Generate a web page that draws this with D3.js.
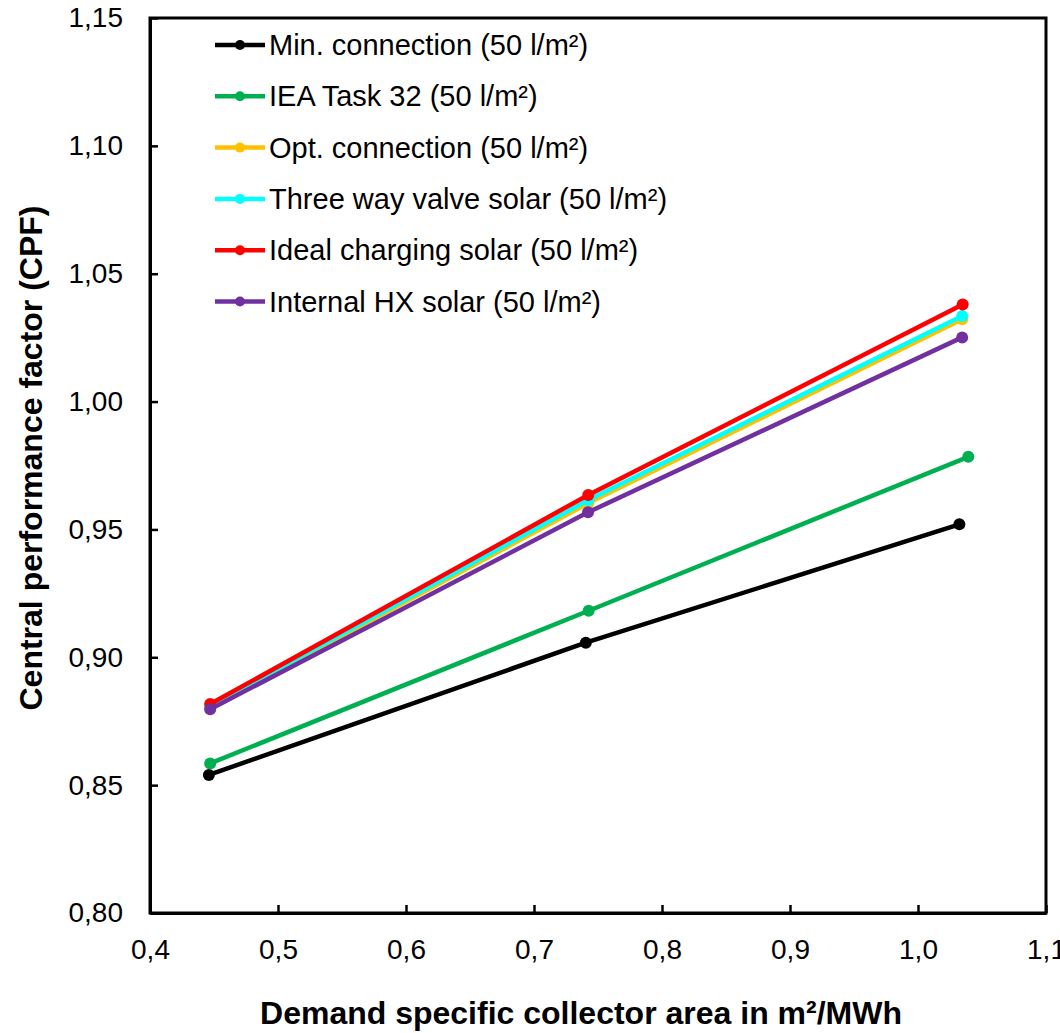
<!DOCTYPE html>
<html>
<meta charset="utf-8">
<script src="https://d3js.org/d3.v7.min.js"></script>
<body style="margin:0;background:#fff">
<svg id="chart"></svg>
<script>
// series data
var seriesNames = ["Min. connection (50 l/m²)", "IEA Task 32 (50 l/m²)", "Opt. connection (50 l/m²)",
    "Three way valve solar (50 l/m²)", "Ideal charging solar (50 l/m²)", "Internal HX solar (50 l/m²)"];
var seriesColors = ["#000000", "#00B050", "#FFC000", "#00FFFF", "#FF0000", "#7030A0"];

var xMin = [0.446, 0.7405, 1.0323];
var yMin = [0.854, 0.9057, 0.952];
var xIea = [0.447, 0.7427, 1.0393];
var yIea = [0.8585, 0.9182, 0.9784];
var xOpt = [0.447, 0.7425, 1.0345];
var yOpt = [0.8805, 0.9603, 1.0322];
var xThree = [0.447, 0.7425, 1.0345];
var yThree = [0.881, 0.9615, 1.0335];
var xIdeal = [0.447, 0.7424, 1.0349];
var yIdeal = [0.8817, 0.9635, 1.038];
var xHx = [0.447, 0.7422, 1.0345];
var yHx = [0.8797, 0.9567, 1.0251];

var xTicks = [0.4, 0.5, 0.6, 0.7, 0.8, 0.9, 1.0, 1.1];
var yTicks = [0.80, 0.85, 0.90, 0.95, 1.00, 1.05, 1.10, 1.15];

var xs = [xMin, xIea, xOpt, xThree, xIdeal, xHx];
var ys = [yMin, yIea, yOpt, yThree, yIdeal, yHx];

var width = 1060, height = 1033;
var margin = { top: 18, right: 14, bottom: 120, left: 150 };
var innerW = width - margin.left - margin.right;
var innerH = height - margin.top - margin.bottom;

var svg = d3.select("#chart").attr("width", width).attr("height", height)
    .style("font-family", "'Liberation Sans', Arial, sans-serif");

var g = svg.append("g").attr("transform", `translate(${margin.left},${margin.top})`);

var x = d3.scaleLinear().domain([0.4, 1.1]).range([0, innerW]);
var y = d3.scaleLinear().domain([0.8, 1.15]).range([innerH, 0]);

var fmtX = function (d) { return d3.format(".1f")(d).replace(".", ","); };
var fmtY = function (d) { return d3.format(".2f")(d).replace(".", ","); };

// frame
g.append("rect").attr("width", innerW).attr("height", innerH)
    .attr("fill", "none").attr("stroke", "#000").attr("stroke-width", 3);

var xAxis = g.append("g").attr("transform", `translate(0,${innerH})`)
    .call(d3.axisBottom(x).tickValues(xTicks).tickFormat(fmtX).tickSizeInner(-8).tickSizeOuter(0).tickPadding(26));
var yAxis = g.append("g")
    .call(d3.axisLeft(y).tickValues(yTicks).tickFormat(fmtY).tickSizeInner(-8).tickSizeOuter(0).tickPadding(27));

[xAxis, yAxis].forEach(function (a) {
    a.select(".domain").attr("stroke", "#000").attr("stroke-width", 3);
    a.selectAll(".tick line").attr("stroke", "#000").attr("stroke-width", 2.5);
    a.selectAll(".tick text").attr("fill", "#000").style("font-size", "28px")
        .style("font-family", "'Liberation Sans', Arial, sans-serif");
});

var line = d3.line().x(function (d) { return x(d[0]); }).y(function (d) { return y(d[1]); });

seriesNames.forEach(function (name, i) {
    var pts = xs[i].map(function (v, j) { return [v, ys[i][j]]; });
    var sg = g.append("g");
    sg.append("path").datum(pts).attr("d", line)
        .attr("fill", "none").attr("stroke", seriesColors[i]).attr("stroke-width", 4.5);
    sg.selectAll("circle").data(pts).enter().append("circle")
        .attr("cx", function (d) { return x(d[0]); })
        .attr("cy", function (d) { return y(d[1]); })
        .attr("r", 6).attr("fill", seriesColors[i]);
});

// legend
var legend = g.append("g").attr("transform", "translate(65,27)");
seriesNames.forEach(function (name, i) {
    var row = legend.append("g").attr("transform", `translate(0,${i * 51.3})`);
    row.append("line").attr("x1", 0).attr("x2", 50).attr("y1", 0).attr("y2", 0)
        .attr("stroke", seriesColors[i]).attr("stroke-width", 4.5);
    row.append("circle").attr("cx", 25).attr("cy", 0).attr("r", 5).attr("fill", seriesColors[i]);
    row.append("text").attr("x", 54).attr("y", 0).attr("dy", "0.35em")
        .style("font-size", "29px").text(name);
});

// axis titles
svg.append("text").attr("x", 581).attr("y", 1024)
    .attr("text-anchor", "middle").style("font-size", "32px").style("font-weight", "bold")
    .text("Demand specific collector area in m²/MWh");
svg.append("text").attr("transform", "translate(42,458) rotate(-90)")
    .attr("text-anchor", "middle").style("font-size", "32px").style("font-weight", "bold")
    .text("Central performance factor (CPF)");
</script>
</body>
</html>
